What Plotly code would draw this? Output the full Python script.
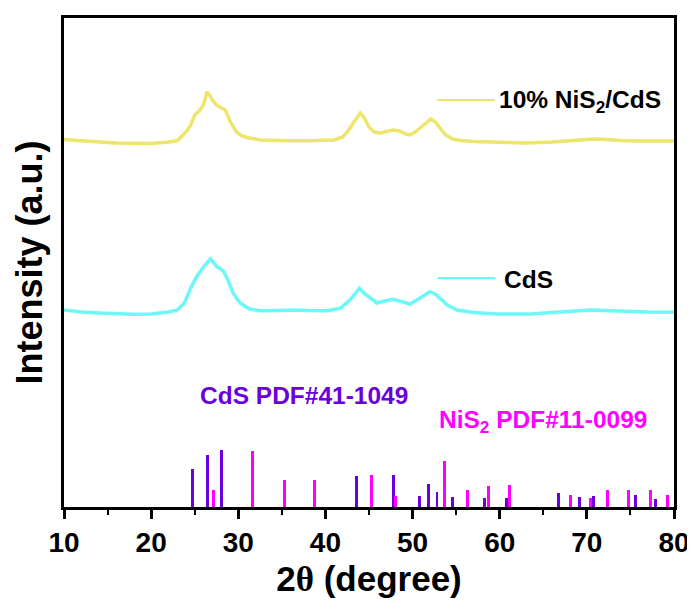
import plotly.graph_objects as go

# ---------------- data ----------------
two_theta_nis2cds = [10, 12, 14, 16, 18, 20, 22, 23, 24, 24.5, 25, 25.6, 26.0, 26.4, 26.7, 27.0,
                     27.5, 27.9, 28.5, 29.1, 29.8, 30.4, 31, 32.5, 34, 36, 38, 40, 41, 42, 42.6,
                     43.2, 43.7, 44.0, 44.4, 45.0, 45.6, 46.3, 47.0, 47.8, 48.5, 49.2, 49.7, 50.3,
                     51.0, 51.6, 52.1, 52.6, 53.2, 53.8, 54.6, 55.5, 57, 60, 63, 66, 68, 70, 71.2,
                     72.5, 74, 76, 78, 80]
int_nis2cds = [367.5, 366, 365, 364, 363.5, 363.5, 365, 366.5, 375, 381, 392, 397, 402, 415, 412, 407,
               402, 400, 397, 385, 375, 371, 369.5, 367, 366.5, 366.3, 366.3, 366.3, 367, 370, 376,
               384, 391, 394, 390, 380, 375, 374, 375.5, 377, 376, 373, 372, 375,
               380, 385, 388, 385, 378, 372, 368, 366.5, 365.5, 364.5, 364, 365, 366.5, 367.5, 368,
               367, 366.5, 366, 366, 366]

two_theta_cds = [10, 12, 14, 16, 18, 20, 22, 23, 23.8, 24.6, 25.2, 26, 26.5, 26.8, 27.2, 27.6,
                 28.3, 28.8, 29.4, 30.2, 31.3, 32.5, 34.5, 36.3, 38, 40.2, 41.7, 42.8, 43.4, 43.9,
                 44.4, 44.9, 45.9, 46.8, 47.8, 48.7, 49.7, 50.5, 51.3, 52.0, 52.6, 53.2, 54.0, 55.1,
                 57, 59.7, 63.5, 66, 68, 70.4, 72, 75, 77, 80]
int_cds = [197, 195, 194, 193, 192.7, 193, 195, 197, 203.7, 220, 230, 240, 245, 248, 244, 240,
           236, 227, 214, 204, 198, 196.3, 196.5, 197, 196.5, 196.3, 198.7, 207, 213, 218.7,
           214, 210.3, 204, 206, 207.7, 205.5, 203, 207, 212, 215.3, 213, 208.7, 202, 197,
           194.5, 193, 193, 194.5, 196, 197, 196.5, 195.3, 195, 194.7]

pdf_cds_pos = [24.75, 26.45, 28.1, 43.6, 47.85, 50.8, 51.8, 52.8, 54.55, 58.25, 60.75, 66.7,
               69.2, 70.8, 75.6, 77.9]
pdf_cds_int = [38, 52, 57, 31, 32, 11, 23, 15, 10, 9, 9, 14, 10, 11, 12, 8]

pdf_nis2_pos = [27.2, 31.6, 35.3, 38.7, 45.25, 48.0, 53.65, 56.3, 58.75, 61.1, 68.1, 70.4,
                72.4, 74.8, 77.3, 79.3]
pdf_nis2_int = [17, 56, 27, 27, 32, 11, 46, 17, 21, 22, 12, 9, 17, 17, 17, 12]

x_ticks = [10, 20, 30, 40, 50, 60, 70, 80]

YELLOW = "#EEE56C"
CYAN = "#6EF7F7"
PURPLE = "#6A00DE"
MAGENTA = "#FF00FF"
FONT = "Liberation Sans, Arial, sans-serif"

fig = go.Figure()
fig.add_trace(go.Scatter(x=two_theta_nis2cds, y=int_nis2cds, mode="lines",
                         line=dict(color=YELLOW, width=3.5), name="10% NiS2/CdS"))
fig.add_trace(go.Scatter(x=two_theta_cds, y=int_cds, mode="lines",
                         line=dict(color=CYAN, width=3.5), name="CdS"))
fig.add_trace(go.Bar(x=pdf_cds_pos, y=pdf_cds_int, width=0.33, marker_color=PURPLE,
                     marker_line_width=0, name="CdS PDF#41-1049"))
fig.add_trace(go.Bar(x=pdf_nis2_pos, y=pdf_nis2_int, width=0.33, marker_color=MAGENTA,
                     marker_line_width=0, name="NiS2 PDF#11-0099"))

# legend-like labels next to curves
fig.add_shape(type="line", x0=52.8, x1=59.4, y0=407, y1=407, xref="x", yref="y",
              line=dict(color=YELLOW, width=2))
fig.add_shape(type="line", x0=52.9, x1=59.5, y0=229, y1=229, xref="x", yref="y",
              line=dict(color=CYAN, width=2))
fig.add_annotation(x=59.7, y=406, text="<b>10% NiS<sub>2</sub>/CdS</b>", showarrow=False,
                   xanchor="left", yanchor="middle", font=dict(family=FONT, size=24.5, color="black"))
fig.add_annotation(x=60.3, y=228, text="<b>CdS</b>", showarrow=False,
                   xanchor="left", yanchor="middle", font=dict(family=FONT, size=24.5, color="black"))
fig.add_annotation(x=25.4, y=112, text="<b>CdS PDF#41-1049</b>", showarrow=False,
                   xanchor="left", yanchor="middle", font=dict(family=FONT, size=24.5, color=PURPLE))
fig.add_annotation(x=52.8, y=86, text="<b>NiS<sub>2</sub> PDF#11-0099</b>", showarrow=False,
                   xanchor="left", yanchor="middle", font=dict(family=FONT, size=24.5, color=MAGENTA))

fig.update_layout(
    width=687, height=598,
    margin=dict(l=56, r=21, t=10, b=99, autoexpand=False),
    paper_bgcolor="white", plot_bgcolor="white",
    showlegend=False, barmode="overlay", bargap=0,
    font=dict(family=FONT, color="black"),
)
fig.update_xaxes(
    range=[10, 80], tickvals=x_ticks, ticktext=[f"<b>{v}</b>" for v in x_ticks],
    ticks="outside", ticklen=9, tickwidth=2.5, tickcolor="black",
    minor=dict(ticks="outside", ticklen=5, tickwidth=2, tickcolor="black", dtick=5, tick0=5),
    showline=True, linewidth=2.5, linecolor="black", mirror=True,
    showgrid=False, zeroline=False,
    tickfont=dict(family=FONT, size=28, color="black"),
    title=dict(text="<b>2<span style='font-family:Liberation Serif'>θ</span> (degree)</b>",
               font=dict(family=FONT, size=35, color="black"), standoff=10),
)
fig.update_yaxes(
    range=[0, 489], showticklabels=False, ticks="",
    showline=True, linewidth=2.5, linecolor="black", mirror=True,
    showgrid=False, zeroline=False,
    title=dict(text="<b>Intensity (a.u.)</b>", font=dict(family=FONT, size=36, color="black"),
               standoff=8),
)

fig.write_html("out.html")
